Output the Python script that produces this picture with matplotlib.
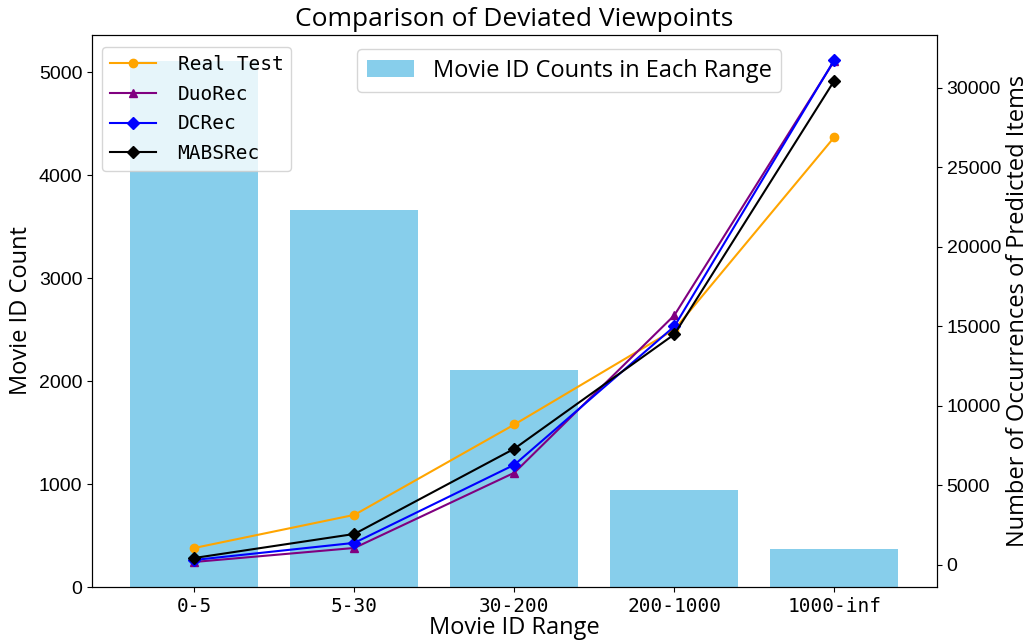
import matplotlib
matplotlib.use('Agg')
import matplotlib.pyplot as plt
import numpy as np

# данные
ranges = ['0-5', '5-30', '30-200', '200-1000', '1000-inf']
movie_counts = [5110, 3667, 2111, 944, 370]

real_test = [1070, 3150, 8830, 14800, 26900]
duorec = [190, 1070, 5800, 15700, 31700]
dcrec = [315, 1390, 6300, 15000, 31750]
mabsrec = [440, 1950, 7310, 14500, 30450]

label_font = 'Open Sans'
num_font = 'Liberation Sans'
mono_font = 'DejaVu Sans Mono'

fig, ax1 = plt.subplots(figsize=(10.34, 6.43), dpi=100)
fig.subplots_adjust(left=0.089, right=0.906, top=0.946, bottom=0.087)

x = np.arange(len(ranges))
ax1.bar(x, movie_counts, width=0.8, color='skyblue', label='Movie ID Counts in Each Range')
ax1.set_xticks(x)
ax1.set_xticklabels(ranges, fontfamily=mono_font, fontsize=14)
ax1.set_xlabel('Movie ID Range', fontfamily=label_font, fontsize=17, labelpad=0)
ax1.set_ylabel('Movie ID Count', fontfamily=label_font, fontsize=17)
for t in ax1.get_yticklabels():
    t.set_fontfamily(num_font)
    t.set_fontsize(14)

ax2 = ax1.twinx()
ax2.plot(x, real_test, color='orange', marker='o', label='Real Test')
ax2.plot(x, duorec, color='purple', marker='^', label='DuoRec')
ax2.plot(x, dcrec, color='blue', marker='D', label='DCRec')
ax2.plot(x, mabsrec, color='black', marker='D', label='MABSRec')
ax2.set_ylabel('Number of Occurrences of Predicted Items', fontfamily=label_font, fontsize=17)
for t in ax2.get_yticklabels():
    t.set_fontfamily(num_font)
    t.set_fontsize(14)

ax1.legend(loc='upper center', prop={'family': label_font, 'size': 17}, bbox_to_anchor=(0.565, 0.995))
ax2.legend(loc='upper left', prop={'family': mono_font, 'size': 14},
           labelspacing=0.55, handlelength=2.4, handletextpad=1.1,
           bbox_to_anchor=(0.0, 0.995))

plt.title('Comparison of Deviated Viewpoints', fontfamily=label_font, fontsize=19)

plt.savefig('out.png')
